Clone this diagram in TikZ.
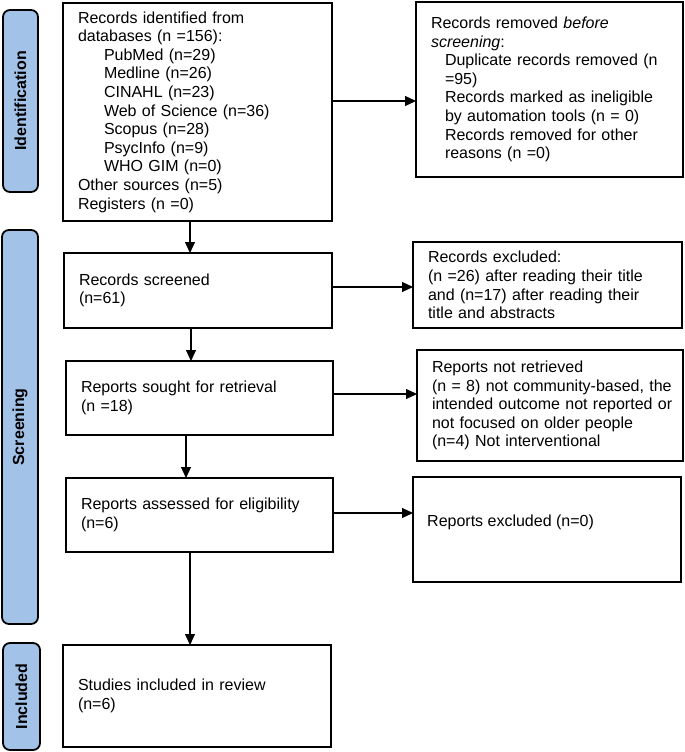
\documentclass[tikz,border=0pt]{standalone}
\usepackage{fontspec}
\setmainfont{Liberation Sans}
\usetikzlibrary{arrows.meta}
\definecolor{sidefill}{RGB}{163,194,232}
\begin{document}
\begin{tikzpicture}[x=1pt,y=-1pt,
  box/.style={draw=black, line width=1.8pt, anchor=north west, outer sep=0pt,
    inner xsep=15pt, inner ysep=0pt, align=left,
    font=\fontsize{16}{18.6}\selectfont},
  side/.style={draw=black, line width=1.8pt, fill=sidefill, rounded corners=7pt,
    rotate=90, outer sep=0pt, inner sep=0pt, font=\fontsize{16}{18}\selectfont\bfseries},
  txt/.style={inner sep=0pt, font=\fontsize{16}{18.6}\selectfont},
  arr/.style={line width=1.1pt, -{Triangle[length=11pt,width=10pt]}}]
\useasboundingbox (0,0) rectangle (685,752);

% phase labels
\node[side, minimum width=182pt, minimum height=35pt] (s1) at (20.5,101) {Identification};
\node[side, minimum width=394pt, minimum height=36pt] (s2) at (20,427) {Screening};
\node[side, minimum width=107pt, minimum height=37pt] (s3) at (21.5,696.5) {Included};

% main column
\node[box, text width=239pt, minimum height=218pt] (b1) at (63,3) {%
Records identified from\\
databases (n =156):\\
\hspace*{26pt}PubMed (n=29)\\
\hspace*{26pt}Medline (n=26)\\
\hspace*{26pt}CINAHL (n=23)\\
\hspace*{26pt}Web of Science (n=36)\\
\hspace*{26pt}Scopus (n=28)\\
\hspace*{26pt}PsycInfo (n=9)\\
\hspace*{26pt}WHO GIM (n=0)\\
Other sources (n=5)\\
Registers (n =0)};
\node[box, text width=238pt, minimum height=75pt] (b2) at (64,253) {Records screened\\(n=61)};
\node[box, text width=237pt, minimum height=74pt] (b3) at (66,361) {Reports sought for retrieval\\(n =18)};
\node[box, text width=237pt, minimum height=74pt] (b4) at (66,478) {Reports assessed for eligibility\\(n=6)};
\node[box, text width=238pt, minimum height=102pt] (b5) at (63,645) {Studies included in review\\(n=6)};

% right column
\node[box, text width=237pt, minimum height=175pt] (r1) at (416,2) {%
Records removed \textit{before}\\
\textit{screening}:\\
\hspace*{14pt}\mbox{Duplicate records removed (n}\\
\hspace*{14pt}=95)\\
\hspace*{14pt}\mbox{Records marked as ineligible}\\
\hspace*{14pt}\mbox{by automation tools (n = 0)}\\
\hspace*{14pt}Records removed for other\\
\hspace*{14pt}reasons (n =0)};
\node[box, text width=239pt, minimum height=86pt] (r2) at (413,242) {%
Records excluded:\\
(n =26) after reading their title\\
and (n=17) after reading their\\
title and abstracts};
\node[box, text width=236pt, minimum height=111pt] (r3) at (417,350) {%
Reports not retrieved\\
\mbox{(n = 8) not community-based, the}\\
\mbox{intended outcome not reported or}\\
not focused on older people\\
(n=4) Not interventional};
\node[box, text width=238pt, minimum height=105pt] (r4) at (413,477) {};
\node[txt, anchor=base west] (r4t) at ([shift={(14,49)}]r4.north west) {Reports excluded (n=0)};

% connector guides
\coordinate (v1) at (190,0);
\coordinate (v2) at (191,0);
\coordinate (v3) at (186,0);
\coordinate (v4) at (190,0);
\coordinate (h1) at (0,101);
\coordinate (h2) at (0,287);
\coordinate (h3) at (0,394);
\coordinate (h4) at (0,513);

\draw[arr] (v1 |- b1.south) -- (v1 |- b2.north);
\draw[arr] (v2 |- b2.south) -- (v2 |- b3.north);
\draw[arr] (v3 |- b3.south) -- (v3 |- b4.north);
\draw[arr] (v4 |- b4.south) -- (v4 |- b5.north);

\draw[arr] (b1.east |- h1) -- (r1.west |- h1);
\draw[arr] (b2.east |- h2) -- (r2.west |- h2);
\draw[arr] (b3.east |- h3) -- (r3.west |- h3);
\draw[arr] (b4.east |- h4) -- (r4.west |- h4);
\end{tikzpicture}
\end{document}
